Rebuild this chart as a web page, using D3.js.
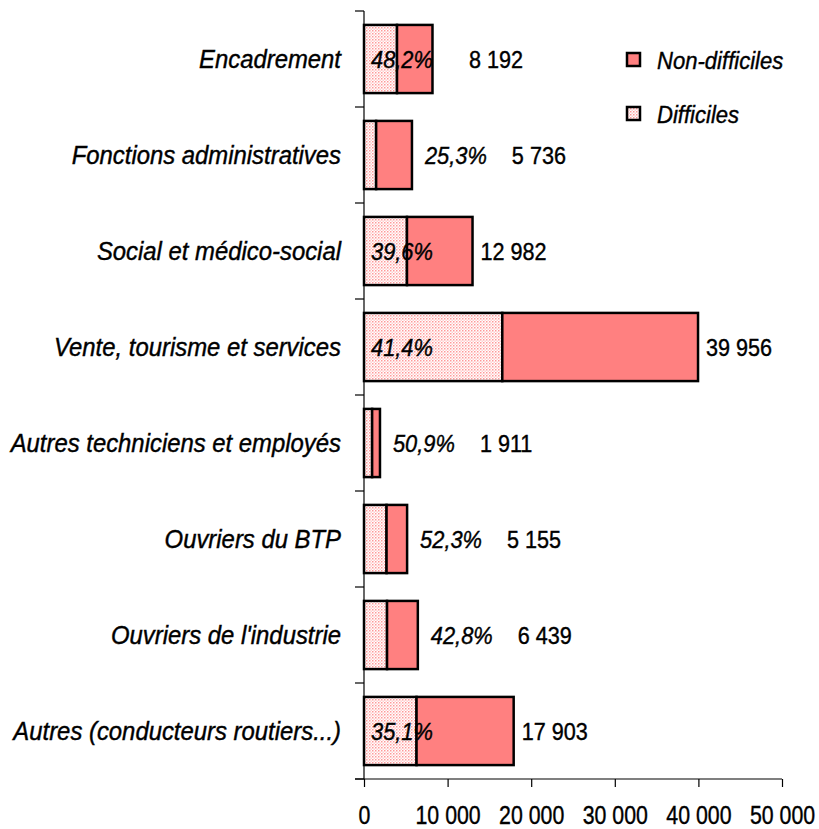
<!DOCTYPE html>
<html>
<head>
<meta charset="utf-8">
<script src="https://cdn.jsdelivr.net/npm/d3@7"></script>
<style>
  body { margin: 0; background: #fff; }
  svg text { font-family: "Liberation Sans Narrow", "Arial Narrow", "Liberation Sans", Arial, sans-serif; fill: #000; stroke: #000; stroke-width: 0.4px; }
</style>
</head>
<body>
<svg id="chart" width="819" height="829"></svg>
<script>
const categories = [
  "Encadrement",
  "Fonctions administratives",
  "Social et médico-social",
  "Vente, tourisme et services",
  "Autres techniciens et employés",
  "Ouvriers du BTP",
  "Ouvriers de l'industrie",
  "Autres (conducteurs routiers...)"
];
const totals = [8192, 5736, 12982, 39956, 1911, 5155, 6439, 17903];
const pctDifficiles = [48.2, 25.3, 39.6, 41.4, 50.9, 52.3, 42.8, 35.1];
const xTicks = [0, 10000, 20000, 30000, 40000, 50000];
const seriesNames = ["Non-difficiles", "Difficiles"];

const data = categories.map((c, i) => {
  const diff = totals[i] * pctDifficiles[i] / 100;
  return { cat: c, total: totals[i], pct: pctDifficiles[i], diff: diff, nondiff: totals[i] - diff };
});

const svg = d3.select("#chart");
const x = d3.scaleLinear().domain([0, 50000]).range([364, 782]);
const y = d3.scaleBand().domain(categories).range([11, 779]).paddingInner(0.29).paddingOuter(0.145);
const cy = d => y(d.cat) + y.bandwidth() / 2;

const defs = svg.append("defs");
const pat = defs.append("pattern").attr("id", "dots").attr("patternUnits", "userSpaceOnUse")
  .attr("width", 3).attr("height", 3);
pat.append("rect").attr("width", 3).attr("height", 3).attr("fill", "#fff");
pat.append("rect").attr("x", 0).attr("y", 0).attr("width", 1.5).attr("height", 1.5).attr("fill", "#FF9999");
pat.append("rect").attr("x", 1.5).attr("y", 1.5).attr("width", 1.5).attr("height", 1.5).attr("fill", "#FFD0D0");

const fmt = v => d3.format(",")(v).replace(/,/g, " ");
const fmtPct = v => d3.format(".1f")(v).replace(".", ",") + "%";

// bars
const rows = svg.append("g").selectAll("g.row").data(data).enter().append("g").attr("class", "row");
rows.append("rect")
  .attr("x", x(0)).attr("y", d => y(d.cat))
  .attr("width", d => x(d.diff) - x(0)).attr("height", y.bandwidth())
  .attr("fill", "url(#dots)").attr("stroke", "#000").attr("stroke-width", 2.5);
rows.append("rect")
  .attr("x", d => x(d.diff)).attr("y", d => y(d.cat))
  .attr("width", d => x(d.total) - x(d.diff)).attr("height", y.bandwidth())
  .attr("fill", "#FF8080").attr("stroke", "#000").attr("stroke-width", 2.5);

// axes
const gy = svg.append("g").attr("transform", `translate(${x(0)},0)`).call(d3.axisLeft(y).tickSize(0).tickFormat(""));
gy.select(".domain").attr("stroke", "#000").attr("stroke-width", 1.2).attr("d", "M0,11V779");
const boundaries = categories.map(c => y(c) - y.step() * y.paddingInner() / 2).concat([779]);
gy.selectAll("line.bt").data(boundaries).enter().append("line").attr("class", "bt")
  .attr("x1", -9).attr("x2", 0).attr("y1", d => d).attr("y2", d => d)
  .attr("stroke", "#000").attr("stroke-width", 1.2);

const gx = svg.append("g").attr("transform", "translate(0,779)")
  .call(d3.axisBottom(x).tickValues(xTicks).tickSize(8).tickPadding(19).tickFormat(fmt));
gx.select(".domain").attr("stroke", "#000").attr("stroke-width", 1.2).attr("d", `M${x(0) - 9},0H${x(50000)}`);
gx.selectAll(".tick line").attr("stroke", "#000").attr("stroke-width", 1.2);
gx.selectAll(".tick text").attr("font-size", 26).attr("fill", "#000").attr("dy", "0.71em")
  .attr("transform", "scale(0.82,1)")
  .style("font-family", '"Liberation Sans Narrow", "Arial Narrow", "Liberation Sans", sans-serif');

// category labels
svg.append("g").selectAll("text").data(data).enter().append("text")
  .attr("transform", d => `translate(341,${cy(d)}) scale(0.955,1)`)
  .attr("dy", "0.36em").attr("text-anchor", "end")
  .attr("font-size", 25).attr("font-style", "italic")
  .text(d => d.cat);

// pct labels
const PS = 0.91, TS = 0.9;
rows.append("text").attr("class", "pct")
  .attr("transform", d => `translate(${d.total >= 8000 ? x(0) + 7 : x(d.total) + 13},${cy(d)}) scale(${PS},1)`)
  .attr("dy", "0.36em")
  .attr("font-size", 24).attr("font-style", "italic")
  .text(d => fmtPct(d.pct));

// total labels
rows.each(function(d) {
  const row = d3.select(this);
  const t = row.select("text.pct").node();
  const start = d.total >= 8000 ? x(0) + 7 : x(d.total) + 13;
  const pctEnd = start + t.getComputedTextLength() * PS;
  const tx = d.total >= 8000 ? Math.max(x(d.total) + 8, pctEnd + 36) : pctEnd + 25;
  row.append("text")
    .attr("transform", `translate(${tx},${cy(d)}) scale(${TS},1)`)
    .attr("dy", "0.36em")
    .attr("font-size", 24).text(fmt(d.total));
});

// legend
const legend = svg.append("g");
const legFills = ["#FF8080", "url(#dots)"];
seriesNames.forEach((n, i) => {
  const ly = 60 + i * 54;
  legend.append("rect").attr("x", 627).attr("y", ly - 7).attr("width", 13).attr("height", 13)
    .attr("fill", legFills[i]).attr("stroke", "#000").attr("stroke-width", 2.5);
  legend.append("text").attr("transform", `translate(657,${ly}) scale(0.92,1)`).attr("dy", "0.36em")
    .attr("font-size", 24).attr("font-style", "italic").text(n);
});
</script>
</body>
</html>
